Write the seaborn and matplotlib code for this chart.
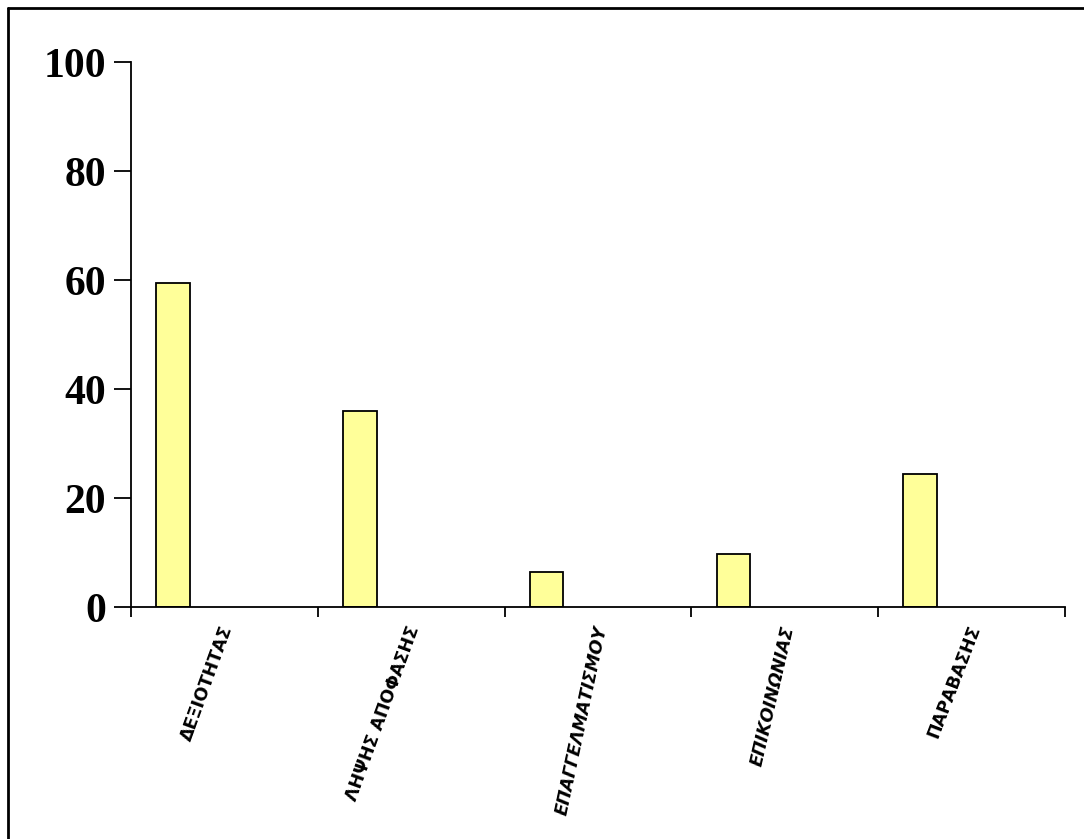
import matplotlib
matplotlib.use("Agg")
import matplotlib.pyplot as plt
import seaborn as sns
from matplotlib.lines import Line2D
from matplotlib.font_manager import FontProperties

# Data
categories = ["ΔΕΞΙΟΤΗΤΑΣ", "ΛΗΨΗΣ ΑΠΟΦΑΣΗΣ", "ΕΠΑΓΓΕΛΜΑΤΙΣΜΟΥ", "ΕΠΙΚΟΙΝΩΝΙΑΣ", "ΠΑΡΑΒΑΣΗΣ"]
values = [59.5, 36.0, 6.4, 9.8, 24.4]
y_ticks = [0, 20, 40, 60, 80, 100]
label_rotation = [70, 70, 78, 77, 69]
label_italic = [False, False, True, True, False]

sns.set_style("white")

fig = plt.figure(figsize=(10.84, 8.39), dpi=100)
ax = fig.add_axes([0.1209, 0.2765, 0.8616, 0.6496])

sns.barplot(x=categories, y=values, color="#FFFF99", edgecolor="black",
            linewidth=1.3, width=0.18, saturation=1, ax=ax)

# bars sit in the left part of each category slot (Excel style)
for p in ax.patches:
    p.set_x(p.get_x() - 0.275)

ax.set_xlim(-0.5, len(categories) - 0.5)
ax.set_ylim(0, 100)
ax.set_yticks(y_ticks)
ax.set_yticklabels([str(t) for t in y_ticks], fontsize=30, fontweight="bold",
                   family="Liberation Serif", color="black")

# category separator ticks on the x axis
ax.set_xticks([i - 0.5 for i in range(len(categories) + 1)])
ax.set_xticklabels([])
ax.tick_params(axis="x", bottom=True, direction="out", length=7, width=1.3, color="black")
ax.tick_params(axis="y", left=True, direction="out", length=12, width=1.3, color="black", pad=6)

for i, name in enumerate(categories):
    fp = FontProperties(family="DejaVu Sans", weight="bold", size=12.5,
                        style="oblique" if label_italic[i] else "normal")
    ax.text(i + 0.02, -3.5, name, rotation=label_rotation[i], rotation_mode="anchor",
            ha="right", va="center", fontproperties=fp, color="black",
            transform=ax.transData, clip_on=False)

for side in ["top", "right"]:
    ax.spines[side].set_visible(False)
for side in ["left", "bottom"]:
    ax.spines[side].set_color("black")
    ax.spines[side].set_linewidth(1.3)
ax.set_facecolor("none")

# outer frame of the picture (top and left edges visible)
fig.add_artist(Line2D([8 / 1084, 1], [1 - 8 / 839, 1 - 8 / 839], color="black", lw=2))
fig.add_artist(Line2D([8 / 1084, 8 / 1084], [0, 1 - 8 / 839], color="black", lw=2))

fig.savefig("out.png", dpi=100)
